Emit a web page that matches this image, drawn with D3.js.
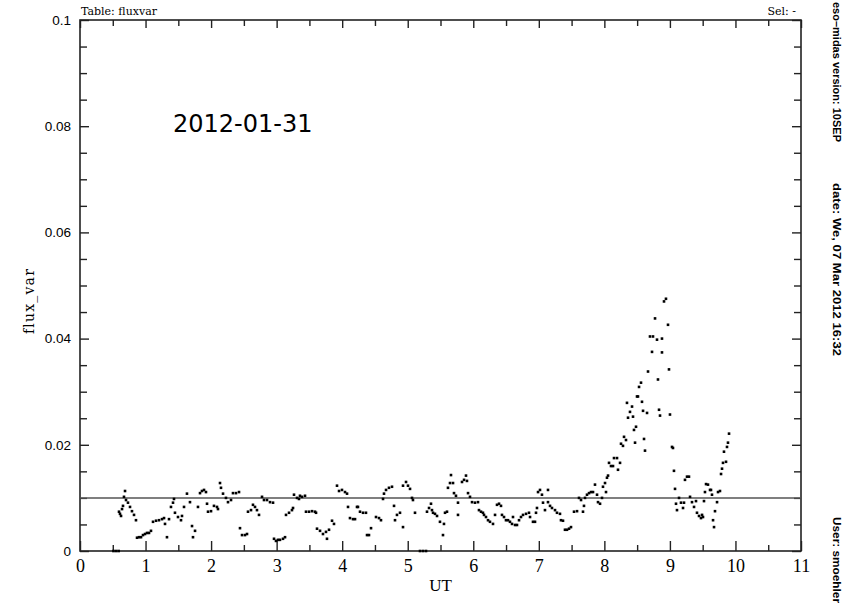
<!DOCTYPE html>
<html>
<head>
<meta charset="utf-8">
<script src="https://cdn.jsdelivr.net/npm/d3@7"></script>
<style>
  html, body { margin: 0; padding: 0; background: #fff; }
  svg { display: block; }
</style>
</head>
<body>
<script>
// ---- data ----
const ut = [
  0.51,0.55,0.59,
  0.595,0.610,0.626,0.641,0.656,0.671,0.687,0.702,0.732,0.763,0.793,0.824,0.854,0.870,0.900,0.931,0.961,0.992,
  1.022,1.053,1.083,1.114,1.160,1.205,1.251,1.282,1.297,1.327,1.358,1.388,1.419,1.434,1.449,1.495,1.541,1.556,
  1.587,1.632,1.678,1.709,1.724,1.755,1.800,1.831,1.861,1.892,1.922,1.938,1.953,1.999,2.044,2.090,2.105,2.136,
  2.151,2.182,2.227,2.258,2.304,2.334,2.380,2.426,2.441,2.472,2.517,2.548,2.563,2.609,2.639,2.670,2.700,2.731,
  2.777,2.807,2.853,2.899,2.945,
  2.960,2.990,3.021,3.051,3.097,3.128,3.143,3.189,3.234,3.250,3.265,3.311,3.341,3.356,3.387,3.433,3.448,3.494,
  3.540,3.585,3.601,3.616,3.662,3.707,3.753,3.768,3.799,3.845,3.875,3.921,3.952,3.997,4.043,4.074,4.089,4.119,
  4.165,4.196,4.226,4.241,4.272,4.318,4.363,4.379,4.409,4.440,4.516,4.562,4.592,4.623,4.638,4.669,4.714,4.760,
  4.791,4.806,4.836,4.882,4.928,4.928,4.974,5.004,5.035,5.065,5.080,5.111,5.187,5.233,5.279,5.294,5.325,5.355,5.386,
  5.370,5.416,5.447,5.492,5.538,5.553,5.569,5.599,5.614,5.645,5.660,5.691,5.706,5.736,5.767,5.767,5.828,5.859,
  5.889,5.904,5.920,5.950,5.981,6.026,6.072,6.087,6.118,6.148,6.164,6.194,6.225,6.255,6.301,6.332,6.362,6.393,
  6.423,6.438,6.469,6.499,6.530,6.560,6.591,6.606,6.637,6.667,6.698,6.728,6.759,6.805,6.850,6.866,6.911,6.942,
  6.957,6.972,6.988,7.018,7.048,7.064,7.094,7.140,7.140,7.171,7.201,7.247,7.277,7.323,7.338,7.369,7.399,7.430,
  7.461,7.491,7.537,7.583,7.613,7.644,7.674,7.689,
  7.705,7.735,7.766,7.796,7.827,7.857,7.888,7.903,7.934,7.964,7.979,8.010,8.025,8.040,8.056,8.071,8.101,8.132,
  8.147,8.193,8.208,8.239,8.254,8.284,8.300,8.330,8.345,8.361,8.391,8.422,8.437,8.452,8.468,8.483,8.498,8.513,
  8.529,8.559,8.574,8.590,8.605,8.620,8.651,8.666,8.696,8.727,8.742,8.773,8.803,8.818,8.834,8.849,8.879,8.879,
  8.910,8.940,8.971,8.986,9.001,9.032,9.047,9.062,9.078,9.093,9.108,9.139,9.169,9.200,9.215,9.230,9.261,9.291,
  9.307,9.337,9.368,9.398,9.413,9.444,9.474,9.490,9.505,9.520,9.535,9.551,9.581,9.612,9.627,9.642,9.658,9.673,
  9.688,9.719,9.734,9.764,9.780,9.795,9.810,9.856,9.825,9.871,9.886,9.902
];
const flux = [
  0,0,0,
  0.0074,0.0070,0.0066,0.0079,0.0085,0.0102,0.0113,0.0096,0.0091,0.0083,0.0075,0.0068,0.0058,0.0025,0.0026,0.0026,0.0030,0.0032,
  0.0034,0.0034,0.0038,0.0055,0.0057,0.0058,0.0060,0.0062,0.0051,0.0026,0.0060,0.0083,0.0091,0.0098,0.0072,0.0064,0.0058,0.0066,
  0.0083,0.0108,0.0092,0.0047,0.0026,0.0038,0.0083,0.0109,0.0113,0.0115,0.0111,0.0089,0.0074,0.0075,0.0085,0.0083,0.0079,0.0128,
  0.0119,0.0108,0.0100,0.0092,0.0096,0.0109,0.0109,0.0111,0.0043,0.0030,0.0030,0.0032,0.0074,0.0077,0.0087,0.0083,0.0077,0.0068,
  0.0102,0.0096,0.0096,0.0092,0.0091,
  0.0023,0.0019,0.0021,0.0021,0.0023,0.0026,0.0068,0.0072,0.0077,0.0081,0.0106,0.0100,0.0098,0.0104,0.0102,0.0104,0.0074,0.0074,
  0.0075,0.0074,0.0072,0.0042,0.0038,0.0032,0.0036,0.0023,0.0040,0.0057,0.0051,0.0123,0.0113,0.0115,0.0111,0.0108,0.0083,0.0062,
  0.0060,0.0060,0.0083,0.0083,0.0074,0.0072,0.0072,0.0030,0.0030,0.0043,0.0064,0.0062,0.0058,0.0098,0.0108,0.0115,0.0119,0.0121,
  0.0085,0.0058,0.0068,0.0072,0.0045,0.0123,0.0130,0.0123,0.0117,0.0100,0.0096,0.0072,0,0,0,0.0074,0.0081,0.0089,0.0072,
  0.0077,0.0070,0.0066,0.0055,0.0030,0.0051,0.0072,0.0074,0.0119,0.0128,0.0143,0.0128,0.0109,0.0104,0.0091,0.0068,0.0130,0.0134,
  0.0142,0.0132,0.0109,0.0102,0.0092,0.0091,0.0092,0.0077,0.0074,0.0072,0.0068,0.0064,0.0058,0.0055,0.0051,0.0068,0.0087,0.0089,
  0.0085,0.0068,0.0064,0.0058,0.0058,0.0055,0.0051,0.0064,0.0049,0.0049,0.0058,0.0064,0.0068,0.0070,0.0072,0.0064,0.0055,0.0055,
  0.0072,0.0081,0.0111,0.0115,0.0106,0.0091,0.0077,0.0115,0.0092,0.0085,0.0081,0.0077,0.0072,0.0070,0.0058,0.0057,0.0040,0.0040,
  0.0042,0.0045,0.0074,0.0075,0.0100,0.0096,0.0074,0.0085,
  0.0100,0.0106,0.0109,0.0111,0.0111,0.0125,0.0106,0.0092,0.0089,0.0100,0.0121,0.0128,0.0111,0.0138,0.0142,0.0166,0.0160,0.0160,
  0.0175,0.0175,0.0153,0.0166,0.0202,0.0198,0.0215,0.0209,0.0279,0.0251,0.0262,0.0272,0.0253,0.0228,0.0204,0.0234,0.0291,0.0291,
  0.0309,0.0317,0.0281,0.0264,0.0211,0.0189,0.0260,0.0338,0.0404,0.0375,0.0404,0.0438,0.0398,0.0323,0.0266,0.0255,0.0374,0.0400,
  0.0470,0.0475,0.0426,0.0342,0.0257,0.0196,0.0194,0.0151,0.0117,0.0089,0.0077,0.0100,0.0091,0.0081,0.0091,0.0134,0.0140,0.0140,
  0.0102,0.0092,0.0083,0.0094,0.0072,0.0066,0.0062,0.0068,0.0064,0.0094,0.0111,0.0126,0.0125,0.0115,0.0115,0.0106,0.0058,0.0045,
  0.0075,0.0092,0.0111,0.0113,0.0145,0.0155,0.0166,0.0168,0.0187,0.0196,0.0204,0.0221
];
const refLevel = 0.01;
const xTickValues = [0,1,2,3,4,5,6,7,8,9,10,11];
const xTickLabels = ["0","1","2","3","4","5","6","7","8","9","10","11"];
const yTickValues = [0,0.02,0.04,0.06,0.08,0.1];
const yTickLabels = ["0","0.02","0.04","0.06","0.08","0.1"];
const dateLabel = "2012-01-31";

// ---- chart ----
const W = 847, H = 607;
const L = 80, R = 801, T = 20, B = 551;
const svg = d3.select("body").append("svg").attr("width", W).attr("height", H);
svg.append("rect").attr("width", W).attr("height", H).attr("fill", "#fff");

const x = d3.scaleLinear().domain([0, 11]).range([L, R]);
const y = d3.scaleLinear().domain([0, 0.1]).range([B, T]);

const halfTicks = d3.range(0.5, 11, 1);
const minorY = d3.range(0, 0.1001, 0.005).filter(v => Math.abs(v / 0.02 - Math.round(v / 0.02)) > 1e-6);

function styleAxis(g) {
  g.select(".domain").remove();
  g.selectAll(".tick line").attr("stroke", "#222").attr("stroke-width", 1.4);
}

// bottom
svg.append("g").attr("transform", `translate(0,${B})`)
  .call(d3.axisBottom(x).tickValues(xTickValues).tickSize(-10).tickPadding(8)
    .tickFormat((d, i) => xTickLabels[i]))
  .call(styleAxis)
  .call(g => g.selectAll("text").attr("font-family", "Liberation Serif, serif").attr("font-size", 18).attr("fill", "#000"));
svg.append("g").attr("transform", `translate(0,${B})`)
  .call(d3.axisBottom(x).tickValues(halfTicks).tickSize(-6).tickFormat(""))
  .call(styleAxis);
// top
svg.append("g").attr("transform", `translate(0,${T})`)
  .call(d3.axisTop(x).tickValues(xTickValues).tickSize(-8).tickFormat(""))
  .call(styleAxis);
svg.append("g").attr("transform", `translate(0,${T})`)
  .call(d3.axisTop(x).tickValues(halfTicks).tickSize(-6).tickFormat(""))
  .call(styleAxis);
// left
svg.append("g").attr("transform", `translate(${L},0)`)
  .call(d3.axisLeft(y).tickValues(yTickValues).tickSize(-9).tickPadding(9)
    .tickFormat((d, i) => yTickLabels[i]))
  .call(styleAxis)
  .call(g => g.selectAll("text").attr("font-family", "Liberation Sans, Arial, sans-serif").attr("font-size", 13.5).attr("fill", "#000"));
svg.append("g").attr("transform", `translate(${L},0)`)
  .call(d3.axisLeft(y).tickValues(minorY).tickSize(-7).tickFormat(""))
  .call(styleAxis);
// right
svg.append("g").attr("transform", `translate(${R},0)`)
  .call(d3.axisRight(y).tickValues(yTickValues).tickSize(-9).tickFormat(""))
  .call(styleAxis);
svg.append("g").attr("transform", `translate(${R},0)`)
  .call(d3.axisRight(y).tickValues(minorY).tickSize(-7).tickFormat(""))
  .call(styleAxis);

// frame
svg.append("rect").attr("x", L).attr("y", T).attr("width", R - L).attr("height", B - T)
  .attr("fill", "none").attr("stroke", "#222").attr("stroke-width", 1.6);

// reference line
svg.append("line")
  .attr("x1", x(0)).attr("x2", x(11)).attr("y1", y(refLevel)).attr("y2", y(refLevel))
  .attr("stroke", "#555").attr("stroke-width", 1.5);

// points
const pts = ut.map((u, i) => ({ u, f: flux[i] }));
svg.append("g").selectAll("rect").data(pts).join("rect")
  .attr("x", d => x(d.u) - 1.3).attr("y", d => y(d.f) - 1.3)
  .attr("width", 2.6).attr("height", 2.6).attr("fill", "#000");

// texts
svg.append("text").attr("x", x(0) + 93).attr("y", 132)
  .attr("font-family", "DejaVu Sans, sans-serif").attr("font-size", 24).attr("fill", "#000")
  .text(dateLabel);

svg.append("text").attr("x", (L + R) / 2).attr("y", 591).attr("text-anchor", "middle")
  .attr("font-family", "Liberation Serif, serif").attr("font-size", 17).attr("fill", "#000")
  .text("UT");

svg.append("text").attr("transform", "translate(34,301) rotate(-90)").attr("text-anchor", "middle")
  .attr("font-family", "DejaVu Serif, serif").attr("font-size", 14).attr("letter-spacing", 1.2).attr("fill", "#000")
  .text("flux_var");

svg.append("text").attr("x", L + 1).attr("y", 15)
  .attr("font-family", "DejaVu Serif, serif").attr("font-size", 11).attr("fill", "#000")
  .text("Table: fluxvar");
svg.append("text").attr("x", R - 5).attr("y", 15).attr("text-anchor", "end")
  .attr("font-family", "DejaVu Serif, serif").attr("font-size", 11).attr("fill", "#000")
  .text("Sel: -");

const side = [
  { t: "eso\u2013midas version: 10SEP", y: 2, len: 140 },
  { t: "date: We, 07 Mar 2012 16:32", y: 183, len: 173 },
  { t: "User: smoehler", y: 517, len: 86 }
];
side.forEach(s => {
  svg.append("text").attr("transform", `translate(833,${s.y}) rotate(90)`)
    .attr("text-anchor", "start")
    .attr("textLength", s.len).attr("lengthAdjust", "spacingAndGlyphs")
    .attr("font-family", "Liberation Sans, Arial, sans-serif").attr("font-weight", "bold")
    .attr("font-size", 11.5).attr("fill", "#000")
    .text(s.t);
});
</script>
</body>
</html>
